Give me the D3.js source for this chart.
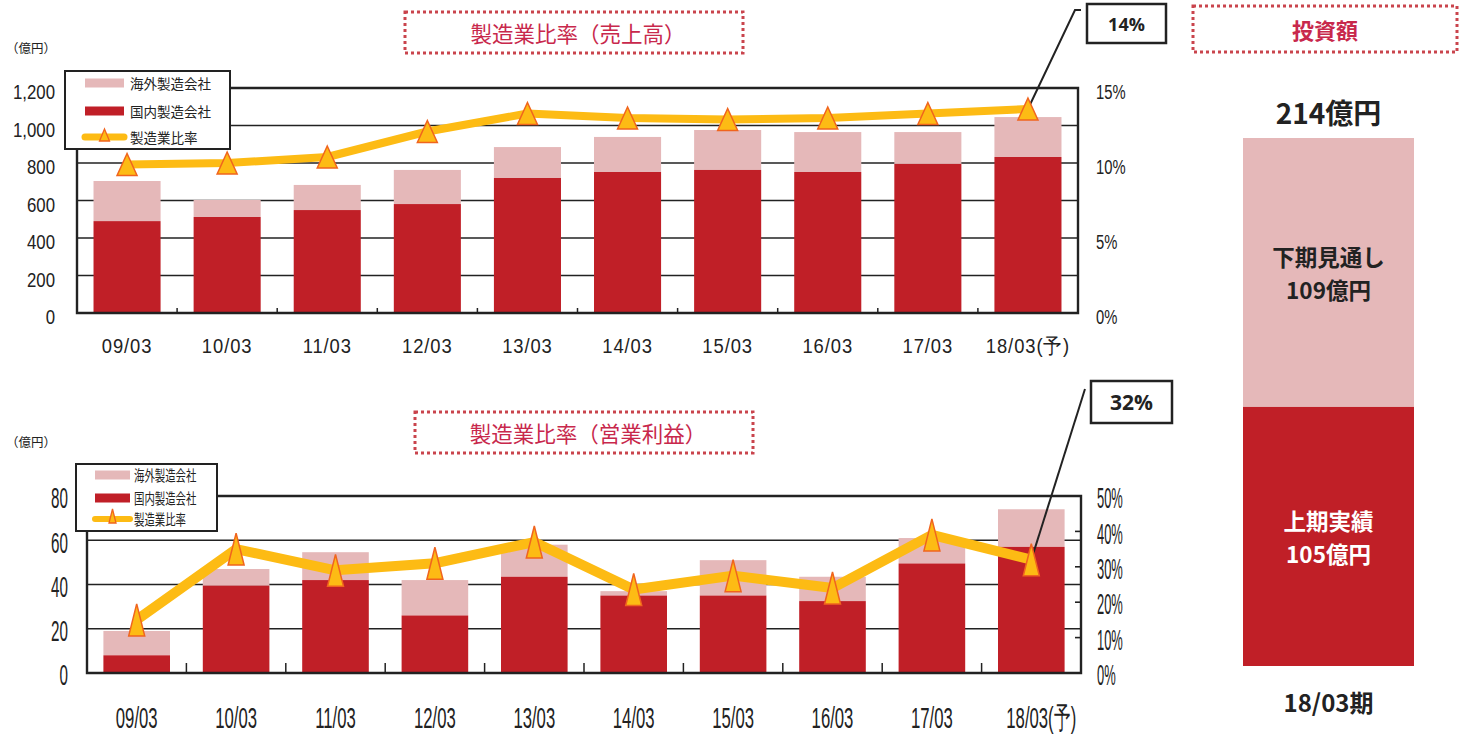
<!DOCTYPE html>
<html>
<head>
<meta charset="utf-8">
<script src="https://cdn.jsdelivr.net/npm/d3@7/dist/d3.min.js"></script>
<style>
  html, body { margin: 0; padding: 0; background: #fff; }
  svg { display: block; }
</style>
</head>
<body>
<svg id="chart" width="1466" height="735"></svg>
<script>
// ---- data ----
const categories = ["09/03", "10/03", "11/03", "12/03", "13/03", "14/03", "15/03", "16/03", "17/03", "18/03(予)"];

// 売上高 (億円)
const salesDomestic = [490, 512, 549, 581, 720, 752, 763, 752, 795, 832];
const salesOverseas = [214, 91, 134, 182, 165, 187, 213, 213, 170, 213];
const salesRatio = [9.9, 10.0, 10.4, 12.1, 13.3, 13.0, 12.9, 13.0, 13.3, 13.6];

// 営業利益 (億円)
const profitDomestic = [8, 39.5, 42, 26, 43.5, 35, 35, 32.5, 49.5, 57];
const profitOverseas = [11, 7.5, 12.6, 16, 14.5, 2, 16, 11, 11.5, 17];
const profitRatio = [15, 35, 29, 31, 37, 23.6, 27.5, 24, 39, 32];

const salesTicks = [0, 200, 400, 600, 800, 1000, 1200];
const salesRatioTicks = [0, 5, 10, 15];
const profitTicks = [0, 20, 40, 60, 80];
const profitRatioTicks = [0, 10, 20, 30, 40, 50];

// 投資額 (億円)
const investPeriod = ["18/03期"];
const investFirstHalf = [105];
const investSecondHalf = [109];

// ---- styles ----
const PINK = "#e5b8b9";
const RED = "#c01f27";
const GOLD = "#fdbb14";
const MARK_EDGE = "#f0641e";
const CRIMSON = "#c8284c";
const DOT = "#c9444d";
const INK = "#222";
const SANS = "'Liberation Sans', Arial, sans-serif";
const JP = "'Noto Sans CJK JP', 'Noto Sans', sans-serif";

const svg = d3.select("#chart");

function triPath(w, h) {
  return `M0,${-h / 2}L${w / 2},${h / 2}L${-w / 2},${h / 2}Z`;
}

function dottedTitle(x, y, w, h, label, size, bold, shift) {
  const g = svg.append("g");
  g.append("rect").attr("x", x).attr("y", y).attr("width", w).attr("height", h)
    .attr("fill", "none").attr("stroke", DOT).attr("stroke-width", 3)
    .attr("stroke-dasharray", "3,3");
  g.append("text").attr("x", x + w / 2 + (shift || 0)).attr("y", y + h / 2)
    .attr("text-anchor", "middle").attr("dominant-baseline", "central")
    .attr("font-family", JP).attr("font-size", size).attr("fill", CRIMSON)
    .attr("font-weight", bold ? 700 : 400)
    .text(label);
}

// Draws one combo chart: stacked bars (left axis) + ratio line (right axis)
function comboChart(cfg) {
  const { left, right, top, bottom, yMax, ticks, rMax, rTicks, domestic, overseas, ratio } = cfg;
  const x = d3.scaleBand().domain(categories).range([left, right])
    .paddingInner(0.33).paddingOuter(0.165);
  const y = d3.scaleLinear().domain([0, yMax]).range([bottom, top]);
  const yR = d3.scaleLinear().domain([0, rMax]).range([bottom, top]);

  const g = svg.append("g");

  // gridlines
  g.append("g").selectAll("line").data(ticks.filter(t => t > 0 && t < yMax)).join("line")
    .attr("x1", left).attr("x2", right)
    .attr("y1", d => y(d)).attr("y2", d => y(d))
    .attr("stroke", INK).attr("stroke-width", 1.6);

  // stacked bars
  const stacked = categories.map((c, i) => ({ c, dom: domestic[i], ovs: overseas[i] }));
  g.append("g").selectAll("rect").data(stacked).join("rect")
    .attr("x", d => x(d.c)).attr("width", x.bandwidth())
    .attr("y", d => y(d.dom + d.ovs)).attr("height", d => y(d.dom) - y(d.dom + d.ovs))
    .attr("fill", PINK);
  g.append("g").selectAll("rect").data(stacked).join("rect")
    .attr("x", d => x(d.c)).attr("width", x.bandwidth())
    .attr("y", d => y(d.dom)).attr("height", d => y(0) - y(d.dom))
    .attr("fill", RED);

  // frame
  g.append("path")
    .attr("d", `M${left},${top}H${right}V${bottom}H${left}Z`)
    .attr("fill", "none").attr("stroke", INK).attr("stroke-width", 2.4);

  // category ticks on baseline
  const bounds = categories.slice(1).map(c => x(c) - x.step() * x.paddingInner() / 2);
  g.append("g").selectAll("line").data(bounds).join("line")
    .attr("x1", d => d).attr("x2", d => d)
    .attr("y1", bottom).attr("y2", bottom - cfg.catTick)
    .attr("stroke", INK).attr("stroke-width", 1.5);

  // right axis inner ticks
  if (cfg.rInnerTicks) {
    g.append("g").selectAll("line").data(rTicks.filter(t => t > 0 && t < rMax)).join("line")
      .attr("x1", right - 6).attr("x2", right)
      .attr("y1", d => yR(d)).attr("y2", d => yR(d))
      .attr("stroke", INK).attr("stroke-width", 1.6);
  }

  // left axis labels
  const ax = d3.axisLeft(y).tickValues(ticks).tickFormat(d3.format(",")).tickSize(0).tickPadding(0);
  const axL = g.append("g").attr("transform", `translate(${left},0)`).call(ax);
  axL.select(".domain").remove();
  axL.selectAll("text").attr("font-family", SANS).attr("font-size", cfg.tickFont)
    .attr("fill", INK).attr("x", 0).attr("dy", cfg.tickDy)
    .attr("transform", `translate(${-cfg.lPad},0) scale(${cfg.lScaleX},${cfg.tickStretch})`);

  const axr = d3.axisRight(yR).tickValues(rTicks).tickFormat(d => d + "%").tickSize(0).tickPadding(0);
  const axR = g.append("g").attr("transform", `translate(${right},0)`).call(axr);
  axR.select(".domain").remove();
  axR.selectAll("text").attr("font-family", SANS).attr("font-size", cfg.tickFont)
    .attr("fill", INK).attr("x", 0).attr("dy", cfg.tickDy)
    .attr("transform", `translate(${cfg.rPad},0) scale(${cfg.rScaleX},${cfg.tickStretch})`);

  // category labels
  g.append("g").selectAll("text").data(categories).join("text")
    .attr("transform", (d, i) => `translate(${x(d) + x.bandwidth() / 2 + (i === categories.length - 1 ? cfg.lastShift : 0)},${cfg.catY}) scale(${cfg.catScaleX},${cfg.catStretch})`)
    .attr("text-anchor", "middle").attr("dominant-baseline", "central")
    .attr("font-family", SANS).attr("font-size", cfg.catFont).attr("letter-spacing", cfg.catSpacing)
    .attr("fill", INK)
    .text(d => d);

  // ratio line
  const pts = categories.map((c, i) => [x(c) + x.bandwidth() / 2, yR(ratio[i])]);
  g.append("path").attr("d", d3.line()(pts))
    .attr("fill", "none").attr("stroke", GOLD).attr("stroke-width", cfg.lineWidth)
    .attr("stroke-linejoin", "round");

  // callout for the last point
  const last = pts[pts.length - 1];
  const c = cfg.callout;
  g.append("path")
    .attr("d", `M${last[0]},${last[1]}L${c.elbowX},${c.elbowY}L${c.elbowX + c.tail},${c.elbowY}`)
    .attr("fill", "none").attr("stroke", INK).attr("stroke-width", 2);

  // markers
  g.append("g").selectAll("path").data(pts).join("path")
    .attr("transform", d => `translate(${d[0]},${d[1]})`)
    .attr("d", triPath(cfg.markW, cfg.markH))
    .attr("fill", GOLD).attr("stroke", MARK_EDGE).attr("stroke-width", 1.5)
    .attr("stroke-linejoin", "miter");

  g.append("rect").attr("x", c.x).attr("y", c.y).attr("width", c.w).attr("height", c.h)
    .attr("fill", "#fff").attr("stroke", INK).attr("stroke-width", 2.5);
  g.append("text").attr("x", c.x + c.w / 2).attr("y", c.y + c.h / 2)
    .attr("text-anchor", "middle").attr("dominant-baseline", "central")
    .attr("font-family", "'Open Sans', 'Noto Sans', sans-serif").attr("font-weight", 700)
    .attr("font-size", c.font).attr("fill", INK)
    .text(d3.format(".0f")(ratio[ratio.length - 1]) + "%");

  // unit label
  g.append("text").attr("x", 6).attr("y", cfg.unitY)
    .attr("dominant-baseline", "central")
    .attr("font-family", JP).attr("font-size", 12.5).attr("fill", INK)
    .text("（億円）");

  // legend
  const L = cfg.legend;
  const lg = g.append("g");
  lg.append("rect").attr("x", L.x).attr("y", L.y).attr("width", L.w).attr("height", L.h)
    .attr("fill", "#fff").attr("stroke", INK).attr("stroke-width", 2);
  const items = [
    { label: "海外製造会社", type: "bar", color: PINK },
    { label: "国内製造会社", type: "bar", color: RED },
    { label: "製造業比率", type: "line", color: GOLD }
  ];
  items.forEach((it, i) => {
    const cy = L.rows[i];
    if (it.type === "bar") {
      lg.append("rect").attr("x", L.sx).attr("y", cy - L.sh / 2).attr("width", L.sw).attr("height", L.sh)
        .attr("fill", it.color);
    } else {
      lg.append("line").attr("x1", L.sx).attr("x2", L.sx + L.sw).attr("y1", cy).attr("y2", cy)
        .attr("stroke", GOLD).attr("stroke-width", L.lw).attr("stroke-linecap", "round");
      lg.append("path").attr("transform", `translate(${L.sx + L.sw / 2},${cy - L.mOff})`)
        .attr("d", triPath(L.mw, L.mh))
        .attr("fill", GOLD).attr("stroke", MARK_EDGE).attr("stroke-width", 1.3);
    }
    lg.append("text").attr("transform", `translate(${L.tx},${cy}) scale(${L.scaleX},${L.stretch})`)
      .attr("dominant-baseline", "central")
      .attr("font-family", JP).attr("font-size", L.font).attr("fill", INK)
      .text(it.label);
  });
}

// 売上高
dottedTitle(405, 12, 338, 41, "製造業比率（売上高）", 21.5, false, 4);
comboChart({
  left: 77, right: 1078, top: 88, bottom: 313,
  yMax: 1200, ticks: salesTicks, rMax: 15, rTicks: salesRatioTicks,
  domestic: salesDomestic, overseas: salesOverseas, ratio: salesRatio,
  catTick: 5, rInnerTicks: false,
  lPad: 22, rPad: 18, tickFont: 20, tickStretch: 1.05, tickDy: "0.5em",
  lScaleX: 0.84, rScaleX: 0.74,
  catY: 346, catFont: 20, catStretch: 1.05, catScaleX: 0.92, catSpacing: 1, lastShift: 0,
  lineWidth: 8, markW: 20, markH: 22,
  callout: { x: 1087, y: 4, w: 79, h: 39, font: 18, elbowX: 1075, elbowY: 10, tail: 6 },
  unitY: 47,
  legend: { x: 65, y: 71, w: 165, h: 78, rows: [83, 111, 137], sx: 85, sw: 39, sh: 9, lw: 7,
            mw: 10, mh: 12, mOff: 2, tx: 130, font: 13.5, scaleX: 1, stretch: 1 }
});

// 営業利益
dottedTitle(415, 412, 338, 41, "製造業比率（営業利益）", 21.5, false, 4);
comboChart({
  left: 87, right: 1081, top: 496, bottom: 673,
  yMax: 80, ticks: profitTicks, rMax: 50, rTicks: profitRatioTicks,
  domestic: profitDomestic, overseas: profitOverseas, ratio: profitRatio,
  catTick: 10, rInnerTicks: true,
  lPad: 19, rPad: 16, tickFont: 19, tickStretch: 1.55, tickDy: "0.4em",
  lScaleX: 0.8, rScaleX: 0.68,
  catY: 717, catFont: 19, catStretch: 1.6, catScaleX: 0.88, catSpacing: 0, lastShift: 10,
  lineWidth: 10, markW: 16, markH: 32,
  callout: { x: 1091, y: 381, w: 81, h: 42, font: 21, elbowX: 1085, elbowY: 389, tail: 0 },
  unitY: 441,
  legend: { x: 76, y: 464, w: 141, h: 67, rows: [475, 498, 519], sx: 95, sw: 35, sh: 9, lw: 6,
            mw: 7, mh: 14, mOff: 3, tx: 134, font: 13, scaleX: 0.8, stretch: 1.1 }
});

// 投資額 panel
dottedTitle(1193, 6, 264, 46, "投資額", 22, true, 0);
const xInv = d3.scaleBand().domain(investPeriod).range([1243, 1414]);
const yInv = d3.scaleLinear().domain([0, investFirstHalf[0] + investSecondHalf[0]]).range([666, 138]);
const inv = svg.append("g");
const invData = investPeriod.map((p, i) => ({ p, first: investFirstHalf[i], second: investSecondHalf[i] }));
inv.selectAll("rect.second").data(invData).join("rect").attr("class", "second")
  .attr("x", d => xInv(d.p)).attr("width", xInv.bandwidth())
  .attr("y", d => yInv(d.first + d.second)).attr("height", d => yInv(d.first) - yInv(d.first + d.second))
  .attr("fill", PINK);
inv.selectAll("rect.first").data(invData).join("rect").attr("class", "first")
  .attr("x", d => xInv(d.p)).attr("width", xInv.bandwidth())
  .attr("y", d => yInv(d.first)).attr("height", d => yInv(0) - yInv(d.first))
  .attr("fill", RED);

const cx = xInv(investPeriod[0]) + xInv.bandwidth() / 2;
function invText(t, y, size, color) {
  inv.append("text").attr("x", cx).attr("y", y)
    .attr("text-anchor", "middle").attr("dominant-baseline", "central")
    .attr("font-family", JP).attr("font-weight", 700).attr("font-size", size).attr("fill", color)
    .text(t);
}
invText((investFirstHalf[0] + investSecondHalf[0]) + "億円", 112, 28, INK);
invText("下期見通し", 255.5, 22.5, INK);
invText(investSecondHalf[0] + "億円", 288.5, 22.5, INK);
invText("上期実績", 519.5, 22.5, "#fff");
invText(investFirstHalf[0] + "億円", 552.5, 22.5, "#fff");
invText(investPeriod[0], 701, 24, INK);
</script>
</body>
</html>
